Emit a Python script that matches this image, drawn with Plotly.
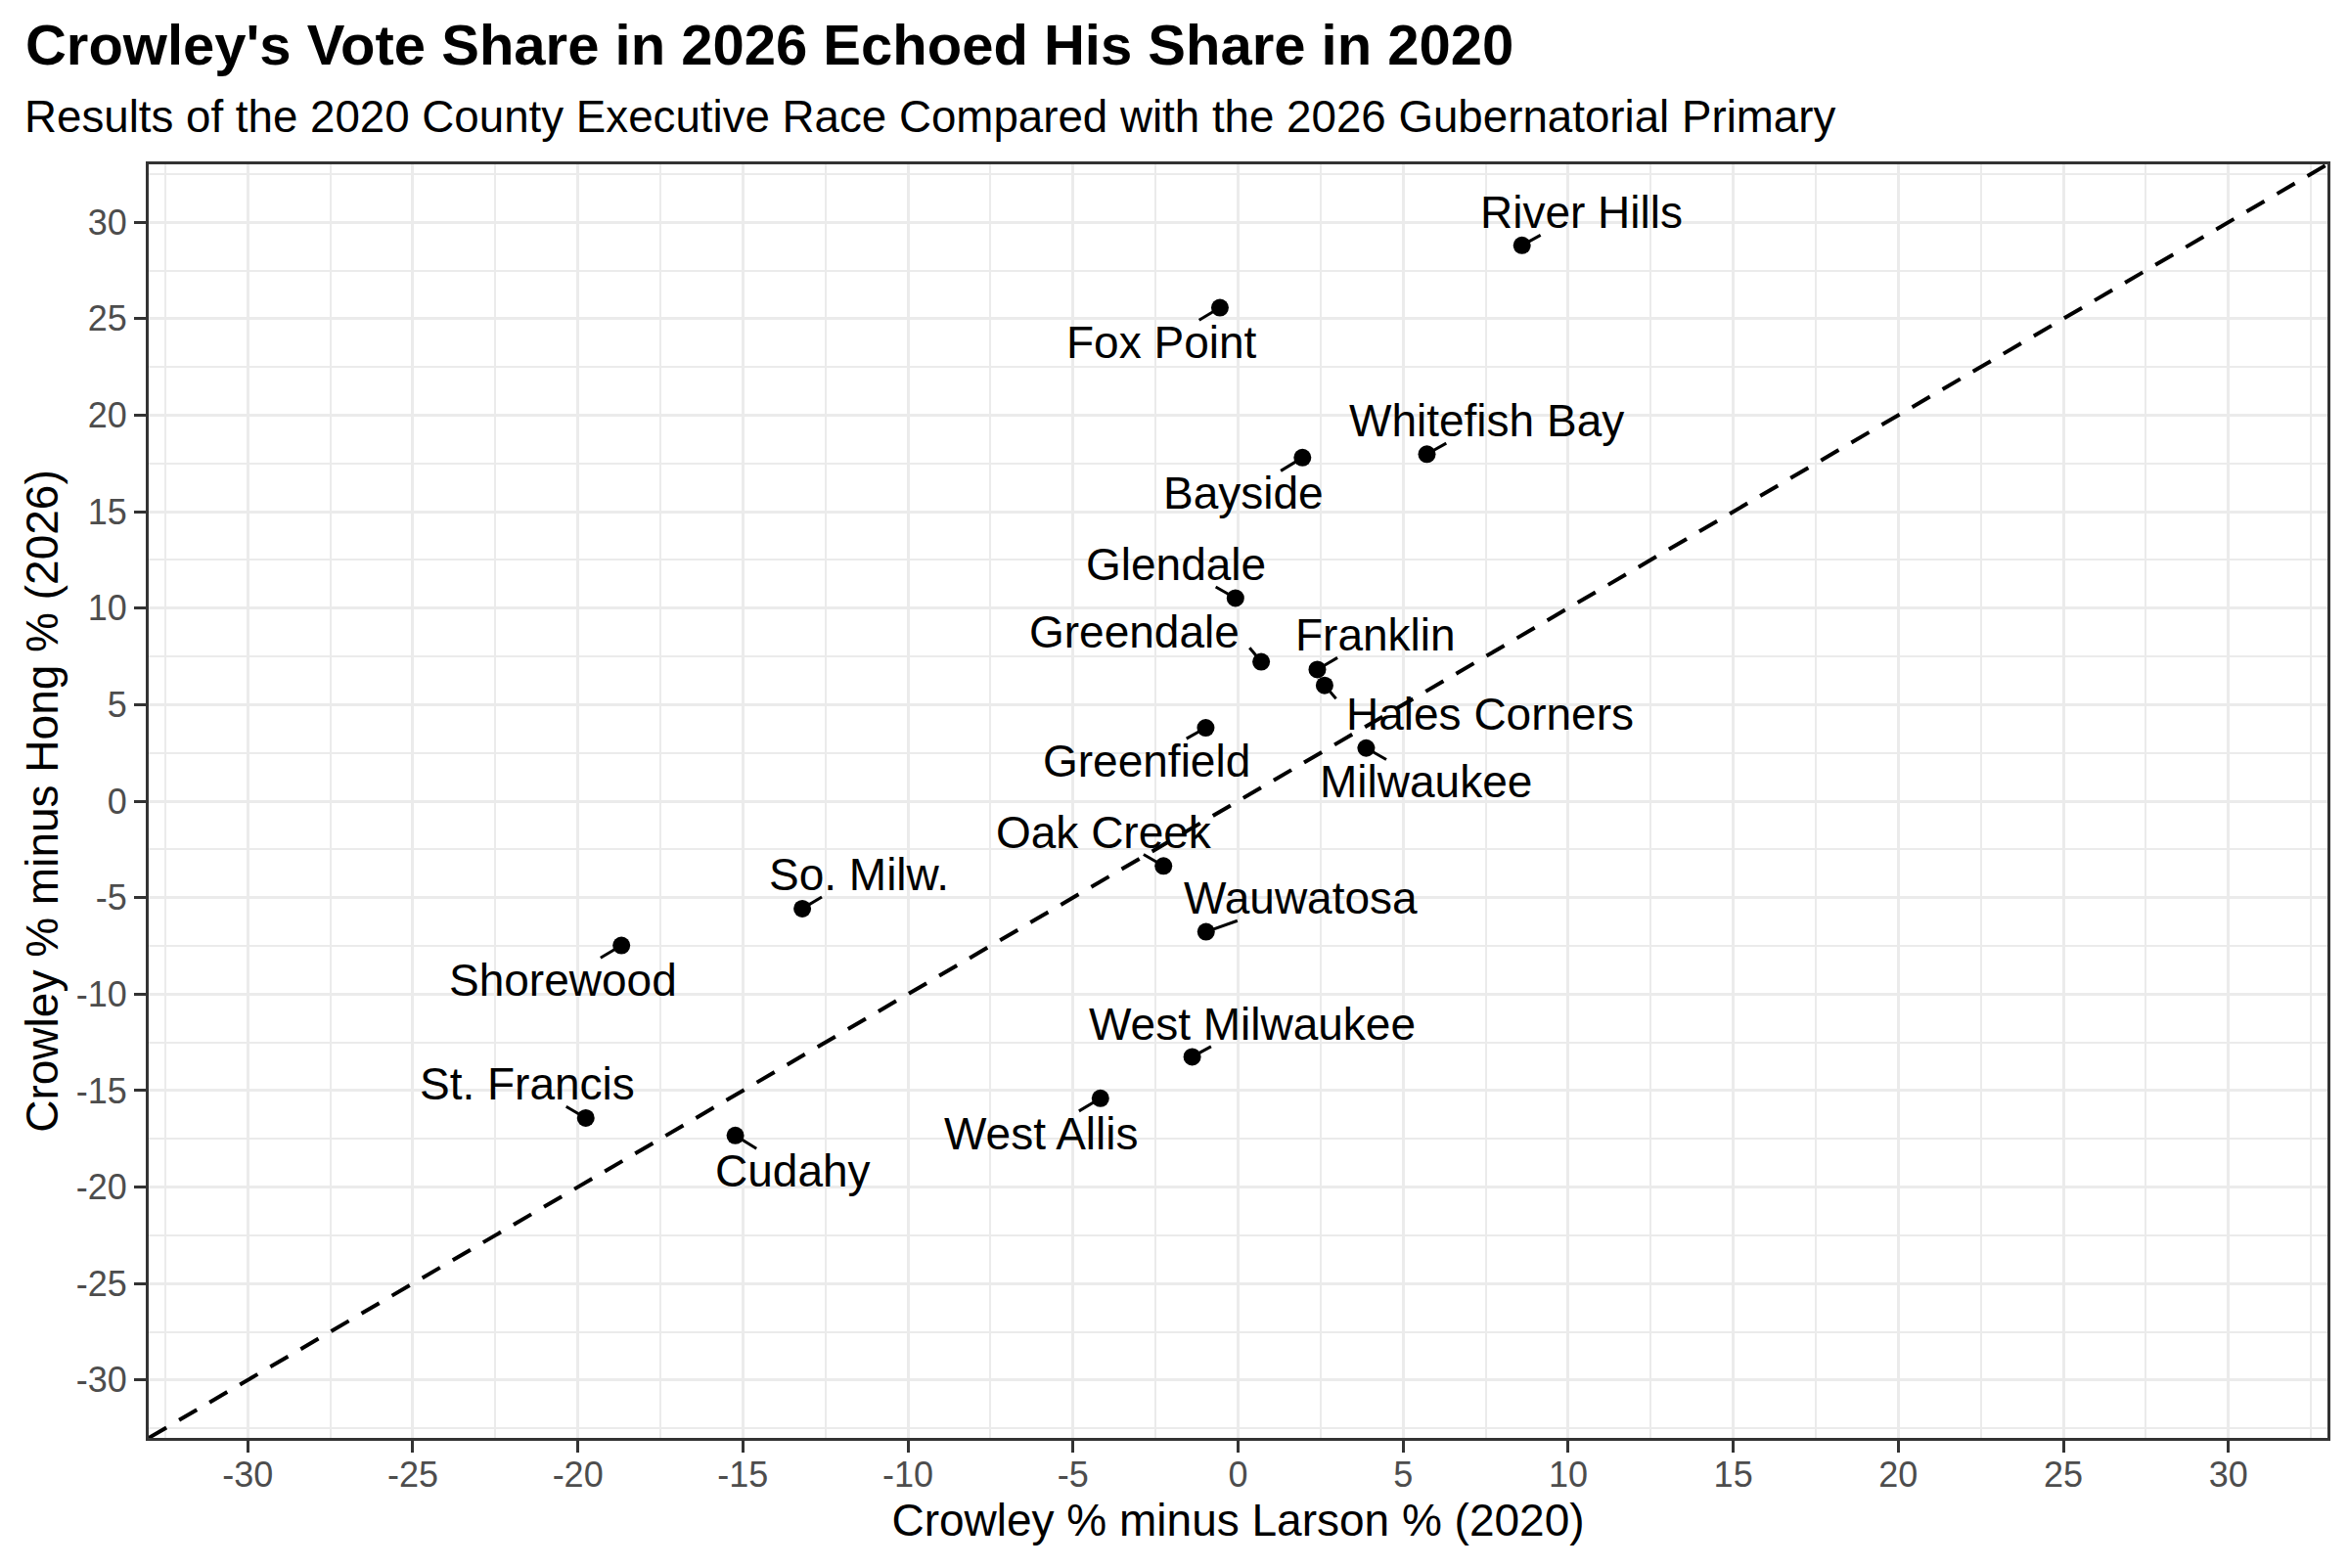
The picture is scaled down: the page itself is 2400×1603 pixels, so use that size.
import plotly.graph_objects as go

# municipal results: Crowley margin 2020 (x) vs 2026 (y)
places = ["River Hills", "Fox Point", "Whitefish Bay", "Bayside", "Glendale",
          "Greendale", "Franklin", "Hales Corners", "Greenfield", "Milwaukee",
          "Oak Creek", "So. Milw.", "Wauwatosa", "Shorewood", "West Milwaukee",
          "West Allis", "St. Francis", "Cudahy"]
margin_2020 = [8.6, -0.55, 5.72, 1.95, -0.08,
               0.70, 2.40, 2.62, -0.98, 3.88,
               -2.26, -13.2, -0.97, -18.68, -1.39,
               -4.17, -19.76, -15.23]
margin_2026 = [28.8, 25.57, 17.98, 17.8, 10.52,
               7.22, 6.82, 6.0, 3.8, 2.75,
               -3.36, -5.57, -6.77, -7.48, -13.25,
               -15.4, -16.42, -17.33]

# where the repelled labels ended up
label_x = [10.39, -2.32, 7.52, 0.17, -1.87,
           -3.13, 4.17, 7.62, -2.77, 5.69,
           -4.05, -11.47, 1.91, -20.46, 0.43,
           -5.96, -21.52, -13.48]
label_y = [30.5, 23.76, 19.71, 15.95, 12.27,
           8.76, 8.6, 4.5, 2.07, 0.99,
           -1.6, -3.8, -5.03, -9.29, -11.55,
           -17.23, -14.66, -19.17]

tick_vals = [-30, -25, -20, -15, -10, -5, 0, 5, 10, 15, 20, 25, 30]
tick_text = ["-30", "-25", "-20", "-15", "-10", "-5", "0", "5", "10", "15", "20", "25", "30"]
lim = [-33, 33]

FONT = "Liberation Sans, Arial, Helvetica, sans-serif"
LABEL_SIZE = 46

# helvetica advance widths (1/1000 em), only used to size the label boxes
CHAR_W = {" ": 278, ".": 278, "A": 667, "B": 667, "C": 722, "E": 667, "F": 611,
          "G": 778, "H": 722, "M": 833, "O": 778, "P": 667, "R": 722, "S": 667,
          "W": 944, "a": 556, "c": 500, "d": 556, "e": 556, "f": 278, "h": 556,
          "i": 222, "k": 500, "l": 222, "m": 833, "n": 556, "o": 556, "r": 333,
          "s": 500, "t": 278, "u": 556, "v": 500, "w": 722, "x": 500, "y": 500}

# page body adds an 8px margin, so the figure is a bit smaller than the window
W, H = 2392, 1595
M = dict(l=144, r=21, t=160, b=133)
x_px = (W - M["l"] - M["r"]) / (lim[1] - lim[0])
y_px = (H - M["t"] - M["b"]) / (lim[1] - lim[0])
half_h = 23  # half height of a label box in px


def half_width(s):
    return sum(CHAR_W.get(c, 556) for c in s) / 1000 * LABEL_SIZE / 2 + 10


# leader segments: from the edge of the label box to the point
seg_x, seg_y = [], []
for name, px_, py_, lx, ly in zip(places, margin_2020, margin_2026, label_x, label_y):
    dx = (px_ - lx) * x_px
    dy = (py_ - ly) * y_px
    hw = half_width(name)
    if abs(dx) > hw:
        # point sits beside the label: leave from the side of the box
        ex = hw if dx > 0 else -hw
        ey = max(-16, min(16, dy))
    else:
        t = min(half_h / abs(dy), 1.0)
        ex, ey = t * dx, t * dy
    seg_x += [lx + ex / x_px, px_, None]
    seg_y += [ly + ey / y_px, py_, None]

fig = go.Figure()

# y = x reference line
fig.add_trace(go.Scatter(x=lim, y=lim, mode="lines",
                         line=dict(color="black", width=4, dash="21px,15px"),
                         hoverinfo="skip", showlegend=False))

fig.add_trace(go.Scatter(x=seg_x, y=seg_y, mode="lines",
                         line=dict(color="black", width=3),
                         hoverinfo="skip", showlegend=False))

fig.add_trace(go.Scatter(x=margin_2020, y=margin_2026, mode="markers",
                         marker=dict(color="black", size=18, line=dict(width=0)),
                         text=places, showlegend=False))

for name, lx, ly in zip(places, label_x, label_y):
    fig.add_annotation(x=lx, y=ly, xref="x", yref="y", text=name,
                       showarrow=False, xanchor="center", yanchor="middle",
                       borderpad=0,
                       font=dict(family=FONT, size=LABEL_SIZE, color="black"))

fig.add_annotation(text="Results of the 2020 County Executive Race Compared with the 2026 Gubernatorial Primary",
                   xref="paper", yref="paper", x=-0.0579, y=1.0376,
                   xanchor="left", yanchor="middle", showarrow=False,
                   font=dict(family=FONT, size=45.7, color="black"))

axis_common = dict(
    range=lim, tickmode="array", tickvals=tick_vals, ticktext=tick_text,
    ticks="outside", ticklen=12, tickwidth=3, tickcolor="#333333",
    tickfont=dict(family=FONT, size=36, color="#4D4D4D"),
    showgrid=True, gridcolor="#EBEBEB", gridwidth=3,
    minor=dict(tickmode="linear", tick0=0, dtick=2.5, showgrid=True,
               gridcolor="#EBEBEB", gridwidth=1.6, ticks=""),
    zeroline=False, showline=True, linecolor="#333333", linewidth=3,
    mirror=True, automargin=False,
)

fig.update_layout(
    width=W, height=H,
    margin=M,
    paper_bgcolor="white", plot_bgcolor="white",
    font=dict(family=FONT, color="black"),
    title=dict(text="<b>Crowley's Vote Share in 2026 Echoed His Share in 2020</b>",
               xref="container", yref="container", x=0.0075, y=0.9762,
               xanchor="left", yanchor="middle",
               font=dict(family=FONT, size=58, color="black")),
    xaxis=dict(axis_common, ticklabelstandoff=-8,
               title=dict(text="Crowley % minus Larson % (2020)",
                          font=dict(family=FONT, size=46, color="black"),
                          standoff=6)),
    yaxis=dict(axis_common, title=dict(text="Crowley % minus Hong % (2026)",
                                       font=dict(family=FONT, size=46, color="black"),
                                       standoff=4)),
    showlegend=False,
)

fig.write_html("out.html")
